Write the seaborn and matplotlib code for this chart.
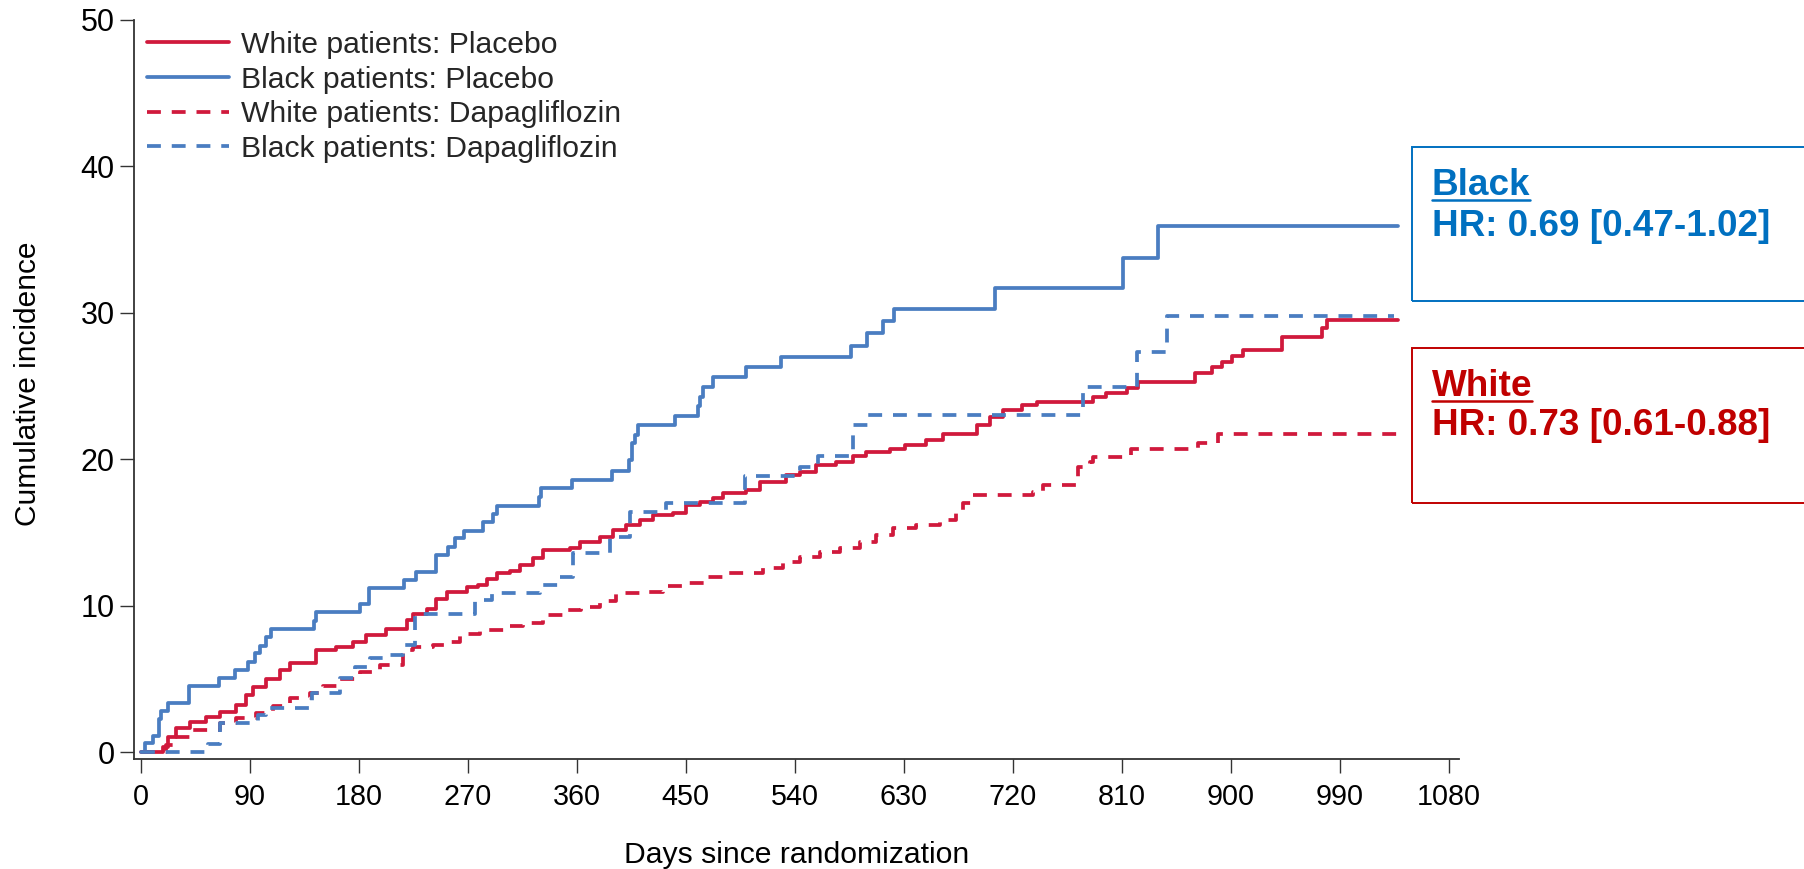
import numpy as np
import pandas as pd
import matplotlib
matplotlib.use("Agg")
import matplotlib.pyplot as plt
import seaborn as sns
from matplotlib.patches import Rectangle
from matplotlib.lines import Line2D

# ---------------- data ----------------
labels = ["White patients: Placebo", "Black patients: Placebo",
          "White patients: Dapagliflozin", "Black patients: Dapagliflozin"]

white_placebo_days = [0, 18.5, 22.6, 29.5, 40.5, 54.2, 65.2, 79, 87.3, 92.8, 103.8, 114.8, 123,
                      145.1, 161.6, 175.4, 186.4, 202.9, 219.5, 225, 236, 244.2, 252.5, 269,
                      278.7, 285.5, 293.8, 304.8, 313, 323.9, 332.2, 354.2, 362.4, 378.9, 389.9,
                      400.9, 411.9, 422.9, 439.4, 450.4, 461.5, 472.5, 480.7, 499.9, 510.9, 533,
                      544, 557.8, 574.3, 588.1, 599.1, 618.3, 630.8, 648.6, 662.4, 690, 701, 712,
                      727.2, 739.6, 786.3, 797.3, 813.9, 823.5, 870.3, 884, 892.3, 900.5, 910.2,
                      941.8, 974.8, 979, 1038]
white_placebo_vals = [0, 0.38, 1.06, 1.63, 2.08, 2.42, 2.76, 3.21, 3.9, 4.47, 5.03, 5.6, 6.06,
                      6.97, 7.19, 7.53, 7.99, 8.44, 9.01, 9.47, 9.81, 10.49, 10.95, 11.29,
                      11.4, 11.86, 12.24, 12.38, 12.77, 13.24, 13.8, 13.92, 14.38, 14.72, 15.17,
                      15.5, 15.86, 16.2, 16.31, 16.88, 17.1, 17.33, 17.67, 17.9, 18.47, 18.91,
                      19.14, 19.6, 19.82, 20.2, 20.5, 20.73, 20.96, 21.3, 21.72, 22.34, 22.86, 23.36,
                      23.71, 23.94, 24.28, 24.5, 24.85, 25.3, 25.87, 26.33, 26.67, 27.08, 27.43,
                      28.38, 28.95, 29.52, 29.52]

black_placebo_days = [0, 3.3, 10.2, 14.9, 16.5, 22.6, 39.9, 64.7, 77.6, 88.6, 94.1, 98.3, 103.8,
                      107.9, 142.9, 145.1, 181.4, 188.5, 217.2, 227.1, 244.2, 253.8, 259.3, 266.7,
                      282.2, 290.9, 294.5, 328.9, 330.5, 356.2, 389.2, 403.2, 405.2, 407.9, 410.6,
                      441.5, 460, 462, 464.3, 472.6, 499.5, 529, 586, 600, 612.9, 622, 705.5,
                      810.6, 840, 1038]
black_placebo_vals = [0, 0.61, 1.11, 2.25, 2.82, 3.34, 4.53, 5.09, 5.62, 6.19, 6.75, 7.28, 7.85,
                      8.42, 8.98, 9.56, 10.12, 11.19, 11.76, 12.33, 13.47, 14.03, 14.6, 15.13,
                      15.7, 16.24, 16.81, 17.4, 18.02, 18.59, 19.22, 19.95, 21.09, 21.66, 22.34,
                      22.98, 23.65, 24.27, 24.91, 25.6, 26.28, 26.96, 27.75, 28.6, 29.44, 30.28, 31.7,
                      33.76, 35.95, 35.95]

white_dapa_days = [0, 21.2, 28.1, 43.2, 65.2, 79, 95.5, 109.3, 123, 139.6, 150.6, 164.4, 180.9,
                   197.4, 216.6, 225, 241.4, 255.2, 263.4, 280, 302, 315.7, 332.3, 348.8, 363.9,
                   379, 392.8, 417.5, 431.3, 447.8, 467.1, 483.6, 500.1, 513.9, 530.4, 544.1,
                   560.6, 577.1, 593.6, 607.4, 621.1, 640.4, 659.6, 673.4, 679, 687.2, 736.7,
                   745, 772.5, 773.9, 783.5, 786.3, 817.9, 872.9, 889.4, 1038]
white_dapa_vals = [0, 0.5, 1.06, 1.52, 2.02, 2.31, 2.65, 3.15, 3.68, 4.02, 4.54, 4.97, 5.5,
                   5.95, 6.97, 7.2, 7.31, 7.53, 8.1, 8.33, 8.6, 8.83, 9.35, 9.7, 9.93,
                   10.34, 10.84, 10.96, 11.35, 11.57, 11.98, 12.21, 12.25, 12.55, 13.0, 13.34,
                   13.69, 13.91, 14.37, 14.83, 15.28, 15.51, 15.85, 16.31, 17.0, 17.56, 17.76,
                   18.24, 18.59, 19.5, 19.84, 20.18, 20.68, 21.09, 21.73, 21.73]

black_dapa_days = [0, 55.6, 65.2, 96.9, 103.8, 141.8, 164.3, 176.7, 189.1, 204.2, 216.6, 226.3,
                   276.4, 290.1, 329.4, 344.6, 357, 387.2, 403.7, 434, 498.7, 544.1, 559.3,
                   588.2, 600.5, 778, 822.7, 847.4, 1035]
black_dapa_vals = [0, 0.57, 2.02, 2.55, 3.0, 4.03, 5.05, 5.84, 6.42, 6.65, 7.3, 9.42,
                   10.4, 10.9, 11.42, 11.99, 13.58, 14.72, 16.42, 17.0, 18.86, 19.5, 20.2,
                   22.34, 23.02, 24.96, 27.3, 29.8, 29.8]

x_ticks = [0, 90, 180, 270, 360, 450, 540, 630, 720, 810, 900, 990, 1080]
y_ticks = [0, 10, 20, 30, 40, 50]

hr_groups = ["Black", "White"]
hr_texts = ["HR: 0.69 [0.47-1.02]", "HR: 0.73 [0.61-0.88]"]

# ---------------- style ----------------
sns.set_theme(style="ticks")
plt.rcParams["font.family"] = ["Liberation Sans", "DejaVu Sans"]

RED = "#D0193C"
BLUE = "#4A7DC1"
BOX_COLORS = ["#0070C0", "#C00000"]
AX_COL = "#333333"
W, H = 1804, 869

fig = plt.figure(figsize=(W / 100, H / 100), dpi=100)
ax = fig.add_axes([134 / W, 1 - 759.3 / H, (1459 - 134) / W, (759.3 - 19.8) / H])

series = [
    (white_placebo_days, white_placebo_vals, RED, "-"),
    (black_placebo_days, black_placebo_vals, BLUE, "-"),
    (white_dapa_days, white_dapa_vals, RED, (0, (3.7, 2.9))),
    (black_dapa_days, black_dapa_vals, BLUE, (0, (3.7, 2.9))),
]
for (d, v, c, ls), lab in zip(series, labels):
    df = pd.DataFrame({"day": d, "value": v})
    sns.lineplot(data=df, x="day", y="value", color=c, linestyle=ls, lw=2.7,
                 drawstyle="steps-post", estimator=None, sort=False, label=lab, ax=ax)

ax.set_xlim(-5.5, 1088.3)
ax.set_ylim(-0.48, 50)
ax.set_xticks(x_ticks)
ax.set_yticks(y_ticks)
ax.set_xticklabels([str(t) for t in x_ticks])
ax.set_yticklabels([str(t) for t in y_ticks])
for s in ["top", "right"]:
    ax.spines[s].set_visible(False)
for s in ["left", "bottom"]:
    ax.spines[s].set_color(AX_COL)
    ax.spines[s].set_linewidth(1.3)
ax.tick_params(axis="both", direction="out", length=10, width=1.0, color=AX_COL,
               labelcolor="black")
ax.tick_params(axis="x", pad=7, labelsize=20.7)
ax.tick_params(axis="y", pad=4, labelsize=22)

ax.set_xlabel("Days since randomization", fontsize=21.7, va="center", color="black")
ax.xaxis.set_label_coords(0.5004, -0.130)
ax.set_ylabel("Cumulative incidence", fontsize=21.5, va="center", color="black")
ax.yaxis.set_label_coords(-0.080, 0.508)

leg = ax.legend(loc="upper left", bbox_to_anchor=(147 / W, 1 - 30.9 / H),
                bbox_transform=fig.transFigure, frameon=False, fontsize=21.7,
                handlelength=2.73, handletextpad=0.38, labelspacing=0.22,
                borderpad=0, borderaxespad=0)

# ---------------- HR annotation boxes ----------------
box_tops = [146.7, 348.3]
box_bottoms = [301.4, 503.3]
title_baselines = [195, 396]
hr_baselines = [236, 435.5]
titles = []
for i in range(2):
    col = BOX_COLORS[i]
    fig.add_artist(Rectangle((1411.7 / W, 1 - box_bottoms[i] / H), 0.3,
                             (box_bottoms[i] - box_tops[i]) / H, transform=fig.transFigure,
                             fill=False, ec=col, lw=1.4, clip_on=False))
    t = fig.text(1431.7 / W, 1 - title_baselines[i] / H, hr_groups[i], color=col,
                 fontsize=26.6, fontweight="bold", va="baseline", ha="left")
    fig.text(1431.7 / W, 1 - hr_baselines[i] / H, hr_texts[i], color=col,
             fontsize=26.6, fontweight="bold", va="baseline", ha="left")
    titles.append((t, col, title_baselines[i]))

fig.canvas.draw()
renderer = fig.canvas.get_renderer()
for t, col, base in titles:
    bb = t.get_window_extent(renderer)
    yy = 1 - (base + 4.5) / H
    fig.add_artist(Line2D([bb.x0 / W, bb.x1 / W], [yy, yy], transform=fig.transFigure,
                          color=col, lw=1.8))

fig.savefig("out.png", dpi=100)
